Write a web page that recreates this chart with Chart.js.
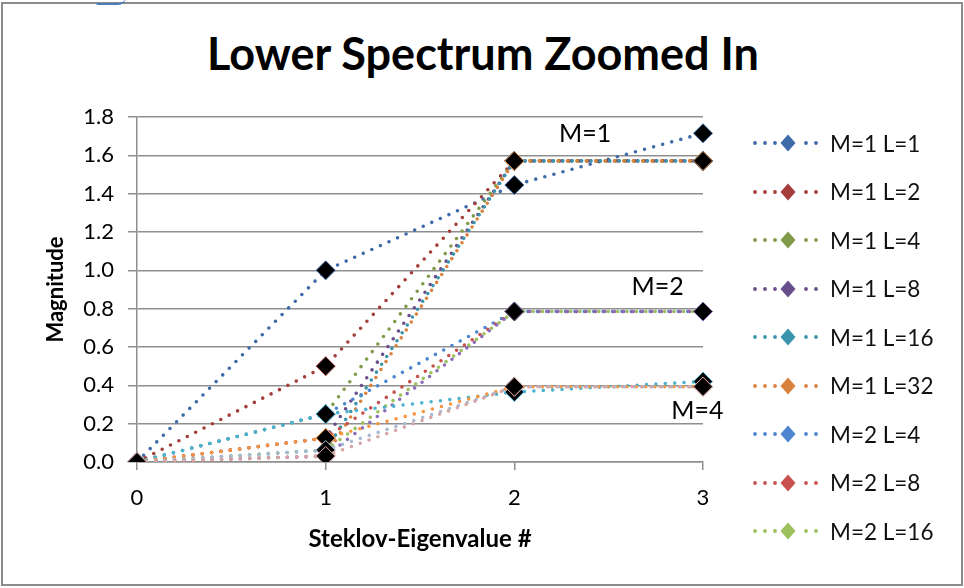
<!DOCTYPE html>
<html>
<head>
<meta charset="utf-8">
<title>Lower Spectrum Zoomed In</title>
<script src="https://cdn.jsdelivr.net/npm/chart.js@4.4.1/dist/chart.umd.min.js"></script>
<style>
  html, body { margin: 0; padding: 0; background: #fff; }
  #wrap { position: relative; width: 964px; height: 588px; overflow: hidden; }
  #frame { position: absolute; left: 1px; top: 2px; width: 958px; height: 580px; border: 2px solid #8c8c8c; }
  #tab { position: absolute; left: 96px; top: -4px; width: 30px; height: 7px; border-bottom: 2px solid #4a7ebb; border-radius: 0 0 8px 2px; }
  #title { position: absolute; left: 0; top: 26px; width: 966px; text-align: center;
           font: bold 45px Lato, 'Open Sans', sans-serif; color: #000; }
  #legend { position: absolute; left: 751px; top: 0; font: 22.5px Lato, 'Open Sans', sans-serif; color: #111; }
  .lg-row { position: absolute; left: 0; height: 24px; display: flex; align-items: center; white-space: nowrap; }
  .lg-row svg { margin-right: 9px; }
  canvas { position: absolute; left: 0; top: 0; }
</style>
</head>
<body>
<div id="wrap">
  <div id="frame"></div>
  <div id="tab"></div>
  <div id="title">Lower Spectrum Zoomed In</div>
  <canvas id="chart" width="964" height="588"></canvas>
  <div id="legend"></div>
</div>
<script>
// ── data ─────────────────────────────────────────────────────────────────────
const eigIndex = ['0', '1', '2', '3'];

const m1L1  = [0, 1.0,     1.445, 1.715];
const m1L2  = [0, 0.5,     1.571, 1.571];
const m1L4  = [0, 0.25,    1.571, 1.571];
const m1L8  = [0, 0.125,   1.571, 1.571];
const m1L16 = [0, 0.0625,  1.571, 1.571];
const m1L32 = [0, 0.03125, 1.571, 1.571];
const m2L4  = [0, 0.25,    0.785, 0.785];
const m2L8  = [0, 0.125,   0.785, 0.785];
const m2L16 = [0, 0.0625,  0.785, 0.785];
const m2L32 = [0, 0.03125, 0.785, 0.785];
const m4L4  = [0, 0.25,    0.365, 0.42];
const m4L8  = [0, 0.125,   0.393, 0.393];
const m4L16 = [0, 0.0625,  0.393, 0.393];
const m4L32 = [0, 0.03125, 0.393, 0.393];

const seriesNames = ['M=1 L=1', 'M=1 L=2', 'M=1 L=4', 'M=1 L=8', 'M=1 L=16', 'M=1 L=32',
                     'M=2 L=4', 'M=2 L=8', 'M=2 L=16', 'M=2 L=32',
                     'M=4 L=4', 'M=4 L=8', 'M=4 L=16', 'M=4 L=32'];
const seriesValues = [m1L1, m1L2, m1L4, m1L8, m1L16, m1L32,
                      m2L4, m2L8, m2L16, m2L32,
                      m4L4, m4L8, m4L16, m4L32];

const yTicks = [0, 0.2, 0.4, 0.6, 0.8, 1.0, 1.2, 1.4, 1.6, 1.8];

// group tags written next to the curves
const groupTags = ['M=1', 'M=2', 'M=4'];
const groupTagAt = [[2.375, 1.71], [2.76, 0.915], [2.97, 0.265]];

// ── styles ───────────────────────────────────────────────────────────────────
const COLORS = ['#3d6aa8', '#a33e3a', '#7f9b48', '#684e8c', '#3a94ac', '#d9823f',
                '#4d86cf', '#c8504d', '#9cc05b', '#8a6cb8',
                '#4bb3cf', '#f7963f', '#a9bad3', '#d5a6a5'];
const GRID = '#8f8f8f';
const FONT = "Lato, 'Open Sans', sans-serif";
const LEGEND_ROWS = 9;   // only the first nine fit in the box

Chart.defaults.font.family = FONT;
Chart.defaults.color = '#000';

const datasets = seriesValues.map((vals, i) => ({
  label: seriesNames[i],
  data: vals,
  borderColor: COLORS[i],
  backgroundColor: COLORS[i],
  borderWidth: 3.6,
  borderDash: [0, 9.4],
  borderCapStyle: 'round',
  tension: 0,
  fill: false,
  pointStyle: 'rectRot',
  pointRadius: 9.5,
  pointHoverRadius: 9.5,
  pointBackgroundColor: '#000',
  pointBorderColor: COLORS[i],
  pointBorderWidth: 1,
  order: seriesValues.length - i       // later series sit on top
}));

// ── M=… tags ─────────────────────────────────────────────────────────────────
const tagPlugin = {
  id: 'groupTags',
  afterDatasetsDraw(chart) {
    const { ctx, scales: { x, y } } = chart;
    ctx.save();
    ctx.font = `25px ${FONT}`;
    ctx.fillStyle = '#000';
    ctx.textAlign = 'center';
    ctx.textBaseline = 'middle';
    groupTags.forEach((t, i) => {
      ctx.fillText(t, x.getPixelForValue(groupTagAt[i][0]), y.getPixelForValue(groupTagAt[i][1]));
    });
    ctx.restore();
  }
};

new Chart(document.getElementById('chart'), {
  type: 'line',
  data: { labels: eigIndex, datasets },
  options: {
    responsive: false,
    animation: false,
    layout: { padding: { left: 39, right: 261, top: 117, bottom: 30 } },
    plugins: {
      legend: { display: false },
      title: { display: false },
      tooltip: { enabled: false }
    },
    scales: {
      x: {
        type: 'category',
        offset: false,
        grid: { drawOnChartArea: false, drawTicks: true, tickLength: 8, color: GRID, lineWidth: 1.5 },
        border: { color: GRID, width: 1.5 },
        ticks: { font: { size: 22 }, padding: 15, color: '#000', maxRotation: 0 },
        title: { display: true, text: 'Steklov-Eigenvalue #', font: { size: 24, weight: 'bold' }, color: '#000' },
        afterFit: s => { s.height = 96; }
      },
      y: {
        min: 0, max: 1.8,
        afterBuildTicks: s => { s.ticks = yTicks.map(v => ({ value: v })); },
        grid: { color: GRID, lineWidth: 1.5, tickLength: 9 },
        border: { color: GRID, width: 1.5 },
        ticks: { font: { size: 22 }, padding: 14, color: '#000', callback: v => v.toFixed(1) },
        title: { display: true, text: 'Magnitude', font: { size: 22, weight: 'bold' }, color: '#000' },
        afterFit: s => { s.width = 98; }
      }
    }
  },
  plugins: [tagPlugin]
});

// ── legend ───────────────────────────────────────────────────────────────────
function swatch(color) {
  const dots = [4, 14, 24, 55, 65].map(cx => `<circle cx="${cx}" cy="12" r="1.9" fill="${color}"/>`).join('');
  return `<svg width="70" height="24" viewBox="0 0 70 24">${dots}` +
         `<polygon points="37,3.5 44.5,12 37,20.5 29.5,12" fill="${color}"/></svg>`;
}
const lg = document.getElementById('legend');
seriesNames.slice(0, LEGEND_ROWS).forEach((name, i) => {
  const row = document.createElement('div');
  row.className = 'lg-row';
  row.style.top = (131 + i * 48.5) + 'px';
  row.innerHTML = swatch(COLORS[i]) + `<span>${name}</span>`;
  lg.appendChild(row);
});
</script>
</body>
</html>
